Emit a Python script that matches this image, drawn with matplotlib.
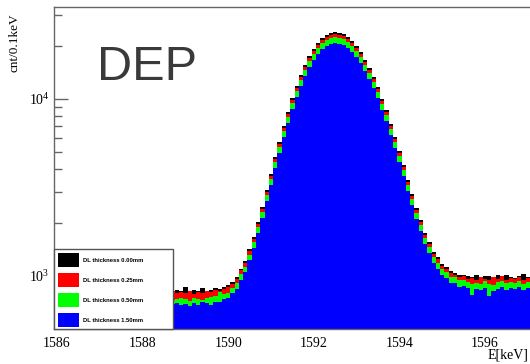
import numpy as np
import matplotlib
matplotlib.use("Agg")
import matplotlib.pyplot as plt
from matplotlib.patches import Rectangle

# counts per 0.1 keV bin, bins start at 1585.95 keV
black = [
    818, 842, 806, 831, 825, 849, 812, 823, 838, 815,
    827, 851, 809, 820, 844, 817, 830, 811, 846, 822,
    835, 808, 829, 850, 814, 826, 841, 805, 833, 819,
    862, 812, 837, 822, 858, 828, 836, 858, 842, 866,
    890, 925, 985, 1102, 1215, 1420, 1668, 2025, 2460, 3060,
    3770, 4690, 5740, 7030, 8440, 10090, 11800, 13700, 15520, 17440,
    19140, 20770, 22010, 23080, 23620, 23900, 23670, 23230, 22330, 21280,
    19880, 18410, 16700, 15060, 13290, 11680, 10050, 8630, 7250, 6120,
    5065, 4230, 3475, 2915, 2415, 2070, 1750, 1560, 1370, 1275,
    1170, 1120, 1062, 1045, 1010, 1018, 1003, 990, 1012, 981,
    1005, 995, 972, 1008, 985, 1015, 992, 978, 1002, 1020,
    987,
]
red = [
    812, 797, 825, 806, 789, 818, 803, 829, 795, 810,
    821, 792, 808, 833, 799, 785, 816, 824, 801, 813,
    794, 827, 809, 798, 835, 811, 790, 820, 806, 817,
    802, 828, 796, 815, 807, 820, 812, 835, 826, 845,
    862, 905, 958, 1075, 1185, 1385, 1625, 1975, 2400, 2985,
    3680, 4570, 5595, 6860, 8230, 9840, 11500, 13350, 15130, 17000,
    18650, 20240, 21450, 22490, 23010, 23300, 23060, 22630, 21760, 20730,
    19370, 17940, 16280, 14680, 12960, 11380, 9800, 8410, 7070, 5970,
    4935, 4125, 3390, 2845, 2355, 2020, 1710, 1525, 1340, 1245,
    1142, 1095, 1040, 1018, 985, 1002, 968, 975, 952, 990,
    961, 945, 982, 958, 996, 949, 973, 960, 988, 951,
    970,
]
green = [
    745, 731, 752, 738, 726, 749, 741, 733, 758, 729,
    744, 736, 721, 750, 739, 728, 755, 742, 733, 747,
    730, 748, 739, 724, 753, 736, 745, 729, 742, 751,
    737, 726, 749, 743, 732, 748, 757, 770, 810, 790,
    803, 858, 910, 1020, 1125, 1320, 1548, 1885, 2295, 2860,
    3525, 4385, 5370, 6580, 7900, 9440, 11040, 12810, 14520, 16310,
    17900, 19420, 20590, 21580, 22090, 22380, 22150, 21730, 20890, 19900,
    18600, 17230, 15630, 14090, 12440, 10930, 9410, 8080, 6790, 5730,
    4750, 3960, 3260, 2735, 2265, 1940, 1640, 1462, 1283, 1192,
    1096, 1052, 992, 985, 945, 951, 924, 902, 918, 899,
    932, 905, 893, 921, 940, 908, 925, 912, 936, 903,
    928,
]
blue = [
    702, 676, 694, 711, 683, 668, 699, 705, 681, 690,
    712, 673, 688, 697, 664, 701, 715, 679, 692, 686,
    670, 703, 694, 681, 709, 688, 662, 698, 707, 684,
    693, 675, 700, 689, 712, 701, 688, 712, 709, 738,
    749, 803, 848, 951, 1049, 1230, 1440, 1752, 2130, 2650,
    3265, 4060, 4970, 6090, 7310, 8740, 10220, 11860, 13440, 15100,
    16570, 17980, 19060, 19980, 20450, 20700, 20490, 20110, 19330, 18420,
    17210, 15940, 14460, 13040, 11510, 10110, 8700, 7470, 6280, 5300,
    4385, 3662, 3010, 2525, 2090, 1790, 1515, 1350, 1185, 1102,
    1012, 972, 918, 910, 872, 880, 851, 778, 845, 832,
    861, 772, 826, 848, 870, 839, 852, 844, 863, 835,
    857,
]
labels = ["DL thickness 0.00mm", "DL thickness 0.25mm",
          "DL thickness 0.50mm", "DL thickness 1.50mm"]
colors = ["#000000", "#ff0000", "#00ff00", "#0000ff"]
xticks = [1586, 1588, 1590, 1592, 1594, 1596]

plt.rcParams["font.family"] = ["Liberation Serif", "DejaVu Serif"]
plt.rcParams["mathtext.fontset"] = "stix"

W, H = 530, 364
fig = plt.figure(figsize=(W / 100, H / 100), dpi=100)


def fx(px):
    return px / W


def fy(py):
    return 1 - py / H


ax = fig.add_axes([fx(54), fy(329), 1 - fx(54), fy(7) - fy(329)])

edges = 1585.95 + 0.1 * np.arange(len(blue) + 1)
for vals, c in zip([black, red, green, blue], colors):
    ax.stairs(vals, edges, fill=True, color=c, baseline=1, lw=0)

ax.set_yscale("log")
ax.set_ylim(502, 33100)
ax.set_xlim(1585.93, 1597.05)
ax.set_xticks(xticks)
ax.set_xticklabels([str(t) for t in xticks])
ax.set_axisbelow(True)

axis_grey = "#666666"
for side in ["left", "top", "bottom"]:
    ax.spines[side].set_color(axis_grey)
    ax.spines[side].set_linewidth(1.0)
ax.spines["right"].set_visible(False)

ax.tick_params(axis="y", which="major", direction="in", length=10, width=1,
               color=axis_grey, labelsize=10, pad=3)
ax.tick_params(axis="y", which="minor", direction="in", length=5.5, width=1,
               color=axis_grey)
ax.tick_params(axis="x", which="major", direction="in", length=8, width=1,
               color=axis_grey, labelsize=10, pad=5.5)
ax.tick_params(axis="x", which="minor", length=0)

fig.text(fx(15), fy(43), "cnt/0.1keV", rotation=90, ha="center", va="center",
         fontsize=9.5)
fig.text(fx(488), fy(355), "E[keV]", ha="left", va="center", fontsize=10)
fig.text(fx(97), fy(80), "DEP", ha="left", va="baseline", fontsize=35,
         family="Liberation Sans", color="#3a3a3a")

# legend box in the lower left corner
fig.add_artist(Rectangle((fx(54), fy(329)), fx(173) - fx(54), fy(249) - fy(329),
                         transform=fig.transFigure, facecolor="white",
                         edgecolor="#555555", lw=1.0, zorder=5))
for k, (lab, c) in enumerate(zip(labels, colors)):
    top = 253 + k * 20
    fig.add_artist(Rectangle((fx(58), fy(top + 14)), fx(79) - fx(58),
                             fy(top) - fy(top + 14), transform=fig.transFigure,
                             facecolor=c, edgecolor="none", zorder=6))
    fig.text(fx(83), fy(top + 7), lab, ha="left", va="center", fontsize=4.2,
             family="Liberation Sans", weight="bold", zorder=7)

fig.savefig("out.png", dpi=100)
